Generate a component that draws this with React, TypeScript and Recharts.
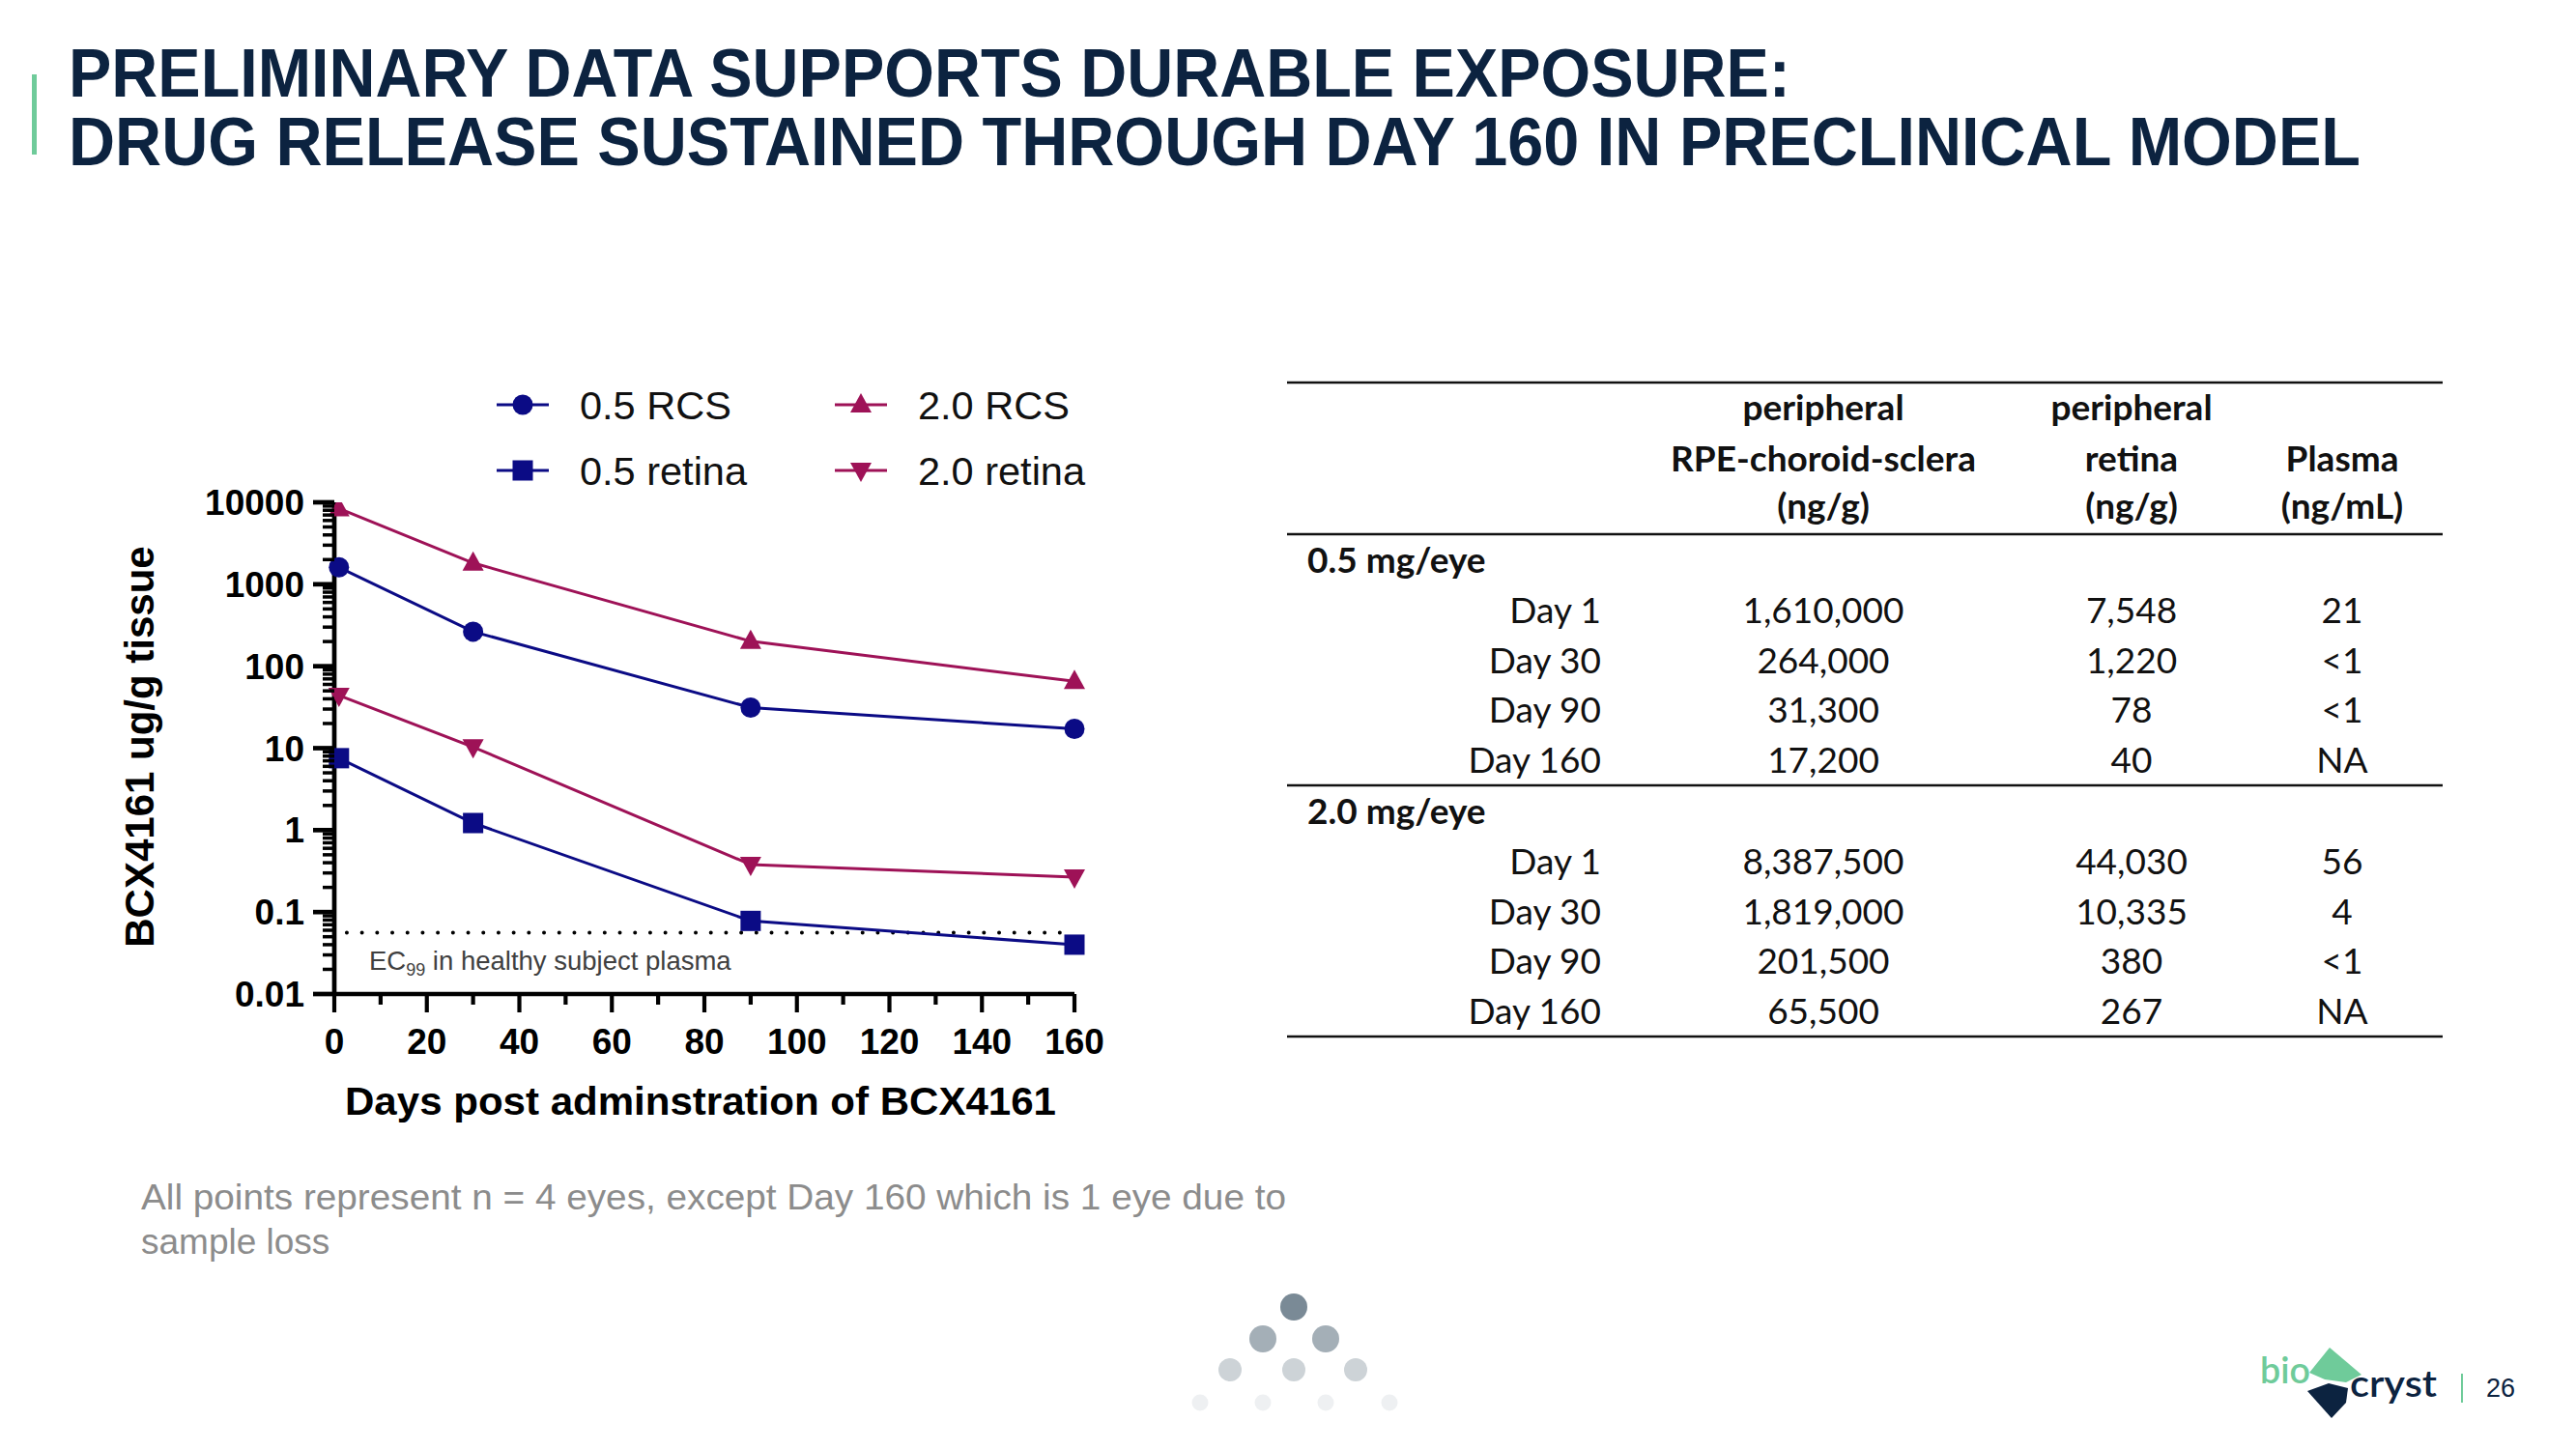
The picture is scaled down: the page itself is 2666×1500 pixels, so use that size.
import React from 'react'
import { LineChart, Line, XAxis, YAxis, ReferenceLine, Legend } from 'recharts'

const NAVY = '#0B0B85'
const CRIMSON = '#9E1257'
const TITLE = '#0C2340'
const GREEN = '#6FCB9A'
const ARIAL = '"Liberation Sans", Arial, sans-serif'
const CALIBRI = 'Lato, "Open Sans", sans-serif'

// concentrations from the table, ng/g (plasma ng/mL)
const days = [1, 30, 90, 160]
const dayLabels = ['Day 1', 'Day 30', 'Day 90', 'Day 160']
const rcs05 = [1610000, 264000, 31300, 17200]
const retina05 = [7548, 1220, 78, 40]
const plasma05 = ['21', '<1', '<1', 'NA']
const rcs20 = [8387500, 1819000, 201500, 65500]
const retina20 = [44030, 10335, 380, 267]
const plasma20 = ['56', '4', '<1', 'NA']

const ec99 = 0.056
const xTicks = [0, 10, 20, 30, 40, 50, 60, 70, 80, 90, 100, 110, 120, 130, 140, 150, 160]
const xLabelled = [0, 20, 40, 60, 80, 100, 120, 140, 160]
const yMajor = [0.01, 0.1, 1, 10, 100, 1000, 10000]
const yMinorSteps = [2, 3, 4, 5, 6, 7, 8, 9]
const yTicks = yMajor.flatMap((m, i) =>
  i === yMajor.length - 1 ? [m] : [m, ...yMinorSteps.map(k => +(m * k).toPrecision(3))])

// ng/g -> ug/g for the plot
const chartData = days.map((d, i) => ({
  day: d,
  rcs05: rcs05[i] / 1000,
  retina05: retina05[i] / 1000,
  rcs20: rcs20[i] / 1000,
  retina20: retina20[i] / 1000,
}))

const series = [
  { key: 'rcs05', name: '0.5 RCS', color: NAVY, shape: 'circle', col: 0, row: 0 },
  { key: 'rcs20', name: '2.0 RCS', color: CRIMSON, shape: 'up', col: 1, row: 0 },
  { key: 'retina05', name: '0.5 retina', color: NAVY, shape: 'square', col: 0, row: 1 },
  { key: 'retina20', name: '2.0 retina', color: CRIMSON, shape: 'down', col: 1, row: 1 },
]

const fmt = (n: number) => n.toLocaleString('en-US')

function Marker({ shape, cx, cy, color }: any) {
  if (cx == null || cy == null) return null
  if (shape === 'circle') return <circle cx={cx} cy={cy} r={10.5} fill={color} />
  if (shape === 'square') return <rect x={cx - 10.5} y={cy - 10.5} width={21} height={21} fill={color} />
  if (shape === 'up')
    return <polygon points={`${cx},${cy - 12} ${cx + 11},${cy + 8} ${cx - 11},${cy + 8}`} fill={color} />
  return <polygon points={`${cx},${cy + 12} ${cx + 11},${cy - 8} ${cx - 11},${cy - 8}`} fill={color} />
}

const isMajor = (v: number) => Math.abs(Math.log10(v) - Math.round(Math.log10(v))) < 1e-6

const YTick = ({ x, y, payload }: any) => {
  const major = isMajor(payload.value)
  return (
    <g>
      <line x1={x} x2={x - (major ? 22 : 12)} y1={y} y2={y} stroke="#000" strokeWidth={major ? 4.7 : 3.5} />
      {major && (
        <text x={x - 31} y={y} dy={13} textAnchor="end" fontFamily={ARIAL} fontWeight={700} fontSize={37} fill="#000">
          {String(payload.value)}
        </text>
      )}
    </g>
  )
}

const XTick = ({ x, y, payload }: any) => {
  const major = xLabelled.includes(payload.value)
  return (
    <g>
      <line x1={x} x2={x} y1={y} y2={y + (major ? 19 : 11)} stroke="#000" strokeWidth={4.2} />
      {major && (
        <text x={x} y={y + 62} textAnchor="middle" fontFamily={ARIAL} fontWeight={700} fontSize={37} fill="#000">
          {payload.value}
        </text>
      )}
    </g>
  )
}

const legendCols = [541, 891]
const legendRows = [419, 487]

const LegendBox = () => (
  <svg width={1200} height={560} style={{ display: 'block' }}>
    {series.map(s => {
      const cx = legendCols[s.col]
      const cy = legendRows[s.row]
      return (
        <g key={s.key}>
          <line x1={cx - 27} x2={cx + 27} y1={cy} y2={cy} stroke={s.color} strokeWidth={3} />
          <Marker shape={s.shape} cx={cx} cy={cy} color={s.color} />
          <text x={cx + 59} y={cy + 15} fontFamily={ARIAL} fontSize={41.5} fill="#111">{s.name}</text>
        </g>
      )
    })}
  </svg>
)

const colX = [1887, 2206, 2424]
const tableX0 = 1332
const tableX1 = 2528

function DataTable() {
  const groups = [
    { label: '0.5 mg/eye', y: 593, rcs: rcs05, ret: retina05, pl: plasma05 },
    { label: '2.0 mg/eye', y: 853, rcs: rcs20, ret: retina20, pl: plasma20 },
  ]
  const head = { fontFamily: CALIBRI, fontWeight: 700, fontSize: 37, fill: '#111', textAnchor: 'middle' as const }
  const body = { fontFamily: CALIBRI, fontSize: 37, fill: '#111' }
  return (
    <g>
      {[396, 553, 813, 1073].map(y => (
        <line key={y} x1={tableX0} x2={tableX1} y1={y} y2={y} stroke="#111" strokeWidth={2.5} />
      ))}
      <text x={colX[0]} y={435} {...head}>peripheral</text>
      <text x={colX[1]} y={435} {...head}>peripheral</text>
      <text x={colX[0]} y={488} {...head}>RPE-choroid-sclera</text>
      <text x={colX[1]} y={488} {...head}>retina</text>
      <text x={colX[2]} y={488} {...head}>Plasma</text>
      <text x={colX[0]} y={537} {...head}>(ng/g)</text>
      <text x={colX[1]} y={537} {...head}>(ng/g)</text>
      <text x={colX[2]} y={537} {...head}>(ng/mL)</text>
      {groups.map(g => (
        <g key={g.label}>
          <text x={1353} y={g.y} {...body} fontWeight={700}>{g.label}</text>
          {dayLabels.map((d, i) => {
            const y = g.y + 52 + i * 51.7
            return (
              <g key={d}>
                <text x={1657} y={y} {...body} textAnchor="end">{d}</text>
                <text x={colX[0]} y={y} {...body} textAnchor="middle">{fmt(g.rcs[i])}</text>
                <text x={colX[1]} y={y} {...body} textAnchor="middle">{fmt(g.ret[i])}</text>
                <text x={colX[2]} y={y} {...body} textAnchor="middle">{g.pl[i]}</text>
              </g>
            )
          })}
        </g>
      ))}
    </g>
  )
}

const dotRows = [
  { y: 1353, r: 14, c: '#7A8A96', xs: [1339] },
  { y: 1386, r: 14, c: '#A4AFB7', xs: [1307, 1372] },
  { y: 1418, r: 12, c: '#CDD3D7', xs: [1273, 1339, 1403] },
  { y: 1452, r: 8.5, c: '#EEF0F2', xs: [1242, 1307, 1372, 1438] },
]

function Overlay() {
  return (
    <svg width={2666} height={1500} style={{ position: 'absolute', left: 0, top: 0, pointerEvents: 'none' }}>
      <rect x={33} y={77} width={5} height={83} fill={GREEN} />
      <text x={71} y={100} fontFamily={ARIAL} fontWeight={700} fontSize={70} fill={TITLE}
        textLength={1782} lengthAdjust="spacingAndGlyphs">PRELIMINARY DATA SUPPORTS DURABLE EXPOSURE:</text>
      <text x={71} y={171} fontFamily={ARIAL} fontWeight={700} fontSize={70} fill={TITLE}
        textLength={2372} lengthAdjust="spacingAndGlyphs">DRUG RELEASE SUSTAINED THROUGH DAY 160 IN PRECLINICAL MODEL</text>

      <text x={144} y={773} transform="rotate(-90 144 773)" textAnchor="middle" dy={15}
        fontFamily={ARIAL} fontWeight={700} fontSize={42} fill="#000">BCX4161 ug/g tissue</text>
      <text x={725} y={1154} textAnchor="middle" textLength={736} lengthAdjust="spacingAndGlyphs"
        fontFamily={ARIAL} fontWeight={700} fontSize={41} fill="#000">Days post adminstration of BCX4161</text>

      <text x={382} y={1004} fontFamily={ARIAL} fontSize={27.5} fill="#404040">
        EC<tspan fontSize={18} dy={6}>99</tspan><tspan dy={-6}> in healthy subject plasma</tspan>
      </text>

      <DataTable />

      <text x={146} y={1252} fontFamily={ARIAL} fontSize={37} fill="#8C8C8C"
        textLength={1185} lengthAdjust="spacingAndGlyphs">All points represent n = 4 eyes, except Day 160 which is 1 eye due to</text>
      <text x={146} y={1298} fontFamily={ARIAL} fontSize={37} fill="#8C8C8C">sample loss</text>

      {dotRows.map(row => row.xs.map(x => <circle key={`${row.y}-${x}`} cx={x} cy={row.y} r={row.r} fill={row.c} />))}

      <text x={2339} y={1432} fontFamily={CALIBRI} fontWeight={600} fontSize={38} fill={GREEN}
        textLength={52} lengthAdjust="spacingAndGlyphs">bio</text>
      <polygon points="2390,1421 2411,1395 2444,1423 2428,1431 2406,1428" fill={GREEN} />
      <polygon points="2388,1440 2410,1432 2430,1437 2428,1452 2413,1468" fill={TITLE} />
      <text x={2432} y={1446} fontFamily={CALIBRI} fontWeight={600} fontSize={38} fill={TITLE}
        textLength={90} lengthAdjust="spacingAndGlyphs">cryst</text>
      <rect x={2547} y={1422} width={2} height={30} fill={GREEN} />
      <text x={2573} y={1446} fontFamily={ARIAL} fontSize={27} fill={TITLE}>26</text>
    </svg>
  )
}

export default function App() {
  return (
    <div style={{ position: 'absolute', left: 0, top: 0, width: 2666, height: 1500, background: '#fff', overflow: 'hidden' }}>
      <div style={{ position: 'absolute', left: 0, top: 0 }}>
        <LineChart width={1200} height={1200} data={chartData} margin={{ top: 520, right: 88, bottom: 71, left: 246 }}>
          <XAxis
            dataKey="day" type="number" domain={[0, 160]} ticks={xTicks} interval={0}
            height={100} tickSize={0} tickMargin={0} tick={<XTick />} tickLine={false}
            axisLine={{ stroke: '#000', strokeWidth: 4.7 }}
          />
          <YAxis
            scale="log" domain={[0.01, 10000]} ticks={yTicks} interval={0} allowDataOverflow
            width={100} tickSize={0} tickMargin={0} tick={<YTick />} tickLine={false}
            axisLine={{ stroke: '#000', strokeWidth: 4.7 }}
          />
          <ReferenceLine
            segment={[{ x: 2.7, y: ec99 }, { x: 157, y: ec99 }]}
            stroke="#000" strokeWidth={4} strokeDasharray="0 15.7" strokeLinecap="round"
          />
          {series.map(s => (
            <Line
              key={s.key} dataKey={s.key} name={s.name} type="linear" stroke={s.color} strokeWidth={3}
              isAnimationActive={false} activeDot={false}
              dot={(p: any) => <Marker key={`${s.key}-${p.index}`} shape={s.shape} cx={p.cx} cy={p.cy} color={s.color} />}
            />
          ))}
          <Legend
            layout="horizontal" verticalAlign="middle" align="center"
            wrapperStyle={{ left: 0, top: 0, width: 1200, height: 560 }}
            content={() => <LegendBox />}
          />
        </LineChart>
      </div>
      <Overlay />
    </div>
  )
}
